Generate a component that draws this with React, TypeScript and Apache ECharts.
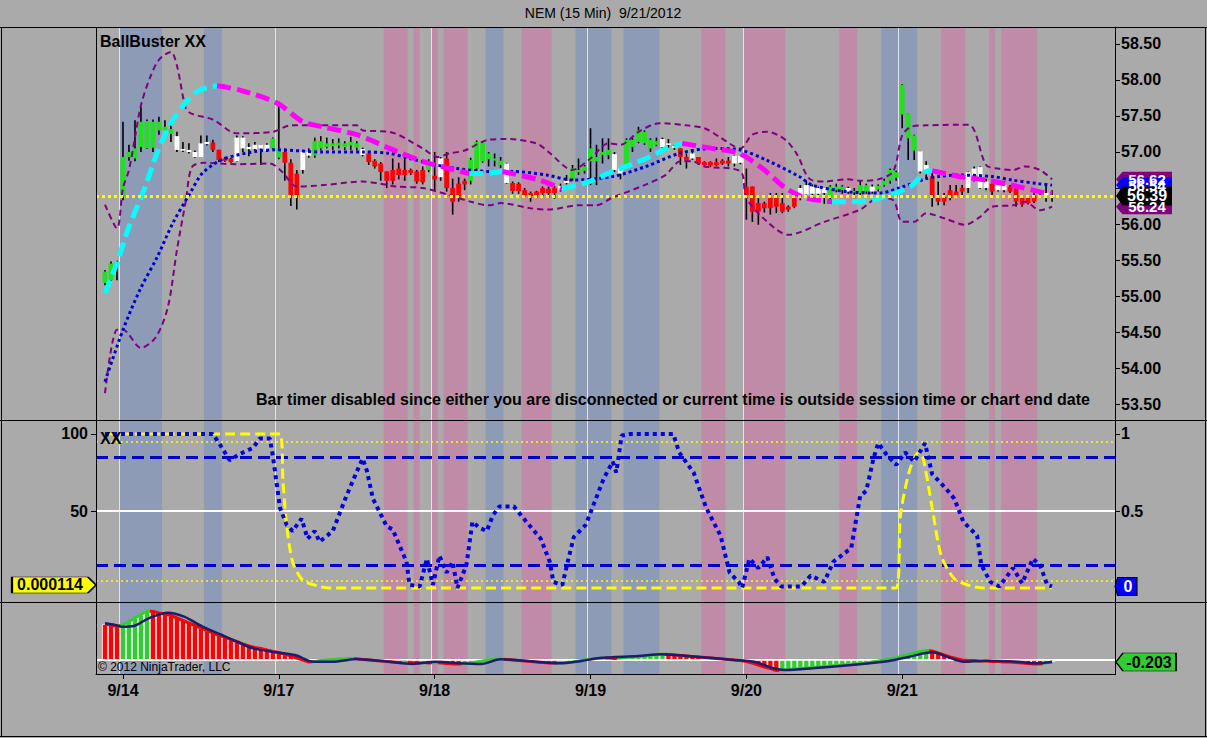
import React, { useEffect, useRef } from "react";
import * as echarts from "echarts";

// ---------- data ----------
const dayLabels = ["9/14", "9/17", "9/18", "9/19", "9/20", "9/21"];
const dayStartBars = [3, 29, 55, 81, 107, 133];
const sessionBreaks = [2.4, 28.4, 54.4, 80.4, 106.4, 132.4];
const priceTicks = [53.5, 54, 54.5, 55, 55.5, 56, 56.5, 57, 57.5, 58, 58.5];

const opens = [
  55.18, 55.22, 55.45, 56.38, 56.93, 56.91, 57.07, 57.05, 57.06, 57.30,
  57.30, 57.25, 57.22, 57.04, 57.03, 57.00, 56.93, 57.14, 57.13, 57.03,
  56.91, 56.91, 56.87, 57.20, 57.07, 57.10, 57.10, 57.10, 57.05, 56.92,
  57.00, 56.85, 56.40, 56.75, 57.00, 56.95, 57.05, 57.07, 57.08, 57.09,
  57.07, 57.09, 57.06, 57.04, 56.98, 56.88, 56.84, 56.73, 56.75, 56.77,
  56.75, 56.75, 56.73, 56.75, 56.75, 56.67, 56.91, 56.91, 56.50, 56.56,
  56.60, 56.60, 56.77, 56.87, 56.90, 56.88, 56.82, 56.84, 56.57, 56.56,
  56.47, 56.43, 56.45, 56.50, 56.49, 56.50, 56.53, 56.57, 56.63, 56.72,
  56.74, 56.87, 56.87, 56.96, 56.96, 56.97, 56.77, 56.82, 57.07, 57.14,
  57.12, 57.05, 57.10, 57.18, 57.10, 57.08, 57.05, 56.93, 56.98, 56.93,
  56.86, 56.86, 56.86, 56.88, 56.88, 56.95, 56.95, 56.52, 56.52, 56.29,
  56.29, 56.36, 56.36, 56.29, 56.24, 56.36, 56.40, 56.54, 56.52, 56.50,
  56.50, 56.36, 56.47, 56.47, 56.50, 56.44, 56.43, 56.45, 56.52, 56.48,
  56.54, 56.60, 56.64, 57.52, 57.19, 57.02, 57.01, 56.82, 56.66, 56.36,
  56.38, 56.47, 56.45, 56.50, 56.50, 56.77, 56.79, 56.59, 56.56, 56.54,
  56.54, 56.52, 56.50, 56.36, 56.36, 56.40, 56.47, 56.43, 56.40,
];
const highs = [
  55.36, 55.48, 55.49, 57.42, 57.10, 57.44, 57.63, 57.45, 57.45, 57.49,
  57.44, 57.42, 57.28, 57.14, 57.12, 57.02, 57.23, 57.23, 57.17, 57.03,
  56.93, 56.92, 57.23, 57.22, 57.12, 57.14, 57.10, 57.12, 57.20, 57.65,
  57.05, 56.90, 56.75, 57.03, 57.05, 57.20, 57.22, 57.20, 57.18, 57.19,
  57.15, 57.21, 57.15, 57.06, 56.98, 56.90, 56.86, 56.73, 56.91, 56.85,
  56.96, 56.77, 56.75, 56.80, 56.90, 57.00, 56.93, 57.00, 56.63, 56.65,
  56.63, 56.92, 57.16, 57.14, 57.00, 56.98, 56.93, 56.85, 56.59, 56.58,
  56.50, 56.45, 56.46, 56.52, 56.52, 56.53, 56.56, 56.68, 56.82, 56.91,
  56.82, 57.33, 57.10, 57.19, 57.19, 57.00, 56.80, 57.19, 57.20, 57.35,
  57.30, 57.19, 57.20, 57.20, 57.18, 57.10, 57.05, 56.98, 57.00, 56.93,
  56.87, 56.87, 56.91, 56.90, 56.93, 56.96, 56.96, 56.77, 56.52, 56.36,
  56.31, 56.43, 56.43, 56.43, 56.26, 56.40, 56.54, 56.60, 56.55, 56.52,
  56.50, 56.54, 56.56, 56.54, 56.52, 56.50, 56.60, 56.56, 56.55, 56.55,
  56.63, 56.77, 56.74, 57.94, 57.54, 57.24, 57.01, 56.87, 56.73, 56.59,
  56.43, 56.54, 56.54, 56.54, 56.73, 56.80, 56.80, 56.63, 56.59, 56.56,
  56.56, 56.54, 56.50, 56.38, 56.38, 56.45, 56.47, 56.54, 56.47,
];
const lows = [
  55.15, 55.20, 55.22, 56.33, 56.88, 56.87, 57.00, 57.04, 57.00, 57.24,
  57.22, 57.14, 57.00, 57.00, 56.98, 56.92, 56.93, 57.09, 57.00, 56.86,
  56.86, 56.85, 56.86, 57.00, 56.94, 57.02, 56.82, 57.00, 57.03, 56.90,
  56.60, 56.25, 56.20, 56.70, 56.92, 56.92, 57.02, 57.05, 57.03, 57.05,
  57.03, 57.03, 57.02, 56.94, 56.82, 56.77, 56.60, 56.50, 56.55, 56.62,
  56.60, 56.68, 56.56, 56.55, 56.72, 56.45, 56.60, 56.45, 56.13, 56.31,
  56.47, 56.55, 56.72, 56.85, 56.80, 56.80, 56.78, 56.56, 56.42, 56.42,
  56.38, 56.31, 56.36, 56.38, 56.36, 56.35, 56.45, 56.55, 56.60, 56.68,
  56.70, 56.54, 56.54, 56.84, 56.90, 56.72, 56.62, 56.80, 57.00, 57.12,
  57.10, 57.00, 57.08, 57.05, 57.06, 57.03, 56.82, 56.77, 56.89, 56.82,
  56.80, 56.79, 56.80, 56.82, 56.80, 56.80, 56.83, 56.06, 56.03, 55.99,
  56.16, 56.13, 56.15, 56.15, 56.17, 56.22, 56.33, 56.38, 56.40, 56.40,
  56.28, 56.29, 56.44, 56.42, 56.42, 56.36, 56.40, 56.42, 56.42, 56.45,
  56.52, 56.56, 56.60, 57.33, 56.89, 56.89, 56.70, 56.63, 56.24, 56.26,
  56.26, 56.33, 56.36, 56.38, 56.43, 56.59, 56.49, 56.47, 56.40, 56.45,
  56.44, 56.43, 56.24, 56.24, 56.27, 56.29, 56.40, 56.31, 56.31,
];
const closes = [
  55.34, 55.45, 55.47, 56.93, 57.00, 57.05, 57.42, 57.43, 57.42, 57.42,
  57.35, 57.32, 57.03, 57.02, 57.00, 56.93, 57.12, 57.11, 57.03, 56.89,
  56.88, 56.86, 57.20, 57.05, 57.04, 57.04, 57.05, 57.02, 57.19, 57.05,
  56.85, 56.40, 56.70, 57.00, 56.95, 57.15, 57.15, 57.12, 57.12, 57.13,
  57.12, 57.14, 57.12, 56.96, 56.86, 56.80, 56.72, 56.60, 56.60, 56.68,
  56.68, 56.71, 56.59, 56.58, 56.86, 56.62, 56.65, 56.50, 56.31, 56.38,
  56.55, 56.89, 57.14, 57.13, 56.98, 56.91, 56.88, 56.57, 56.46, 56.46,
  56.40, 56.39, 56.40, 56.43, 56.43, 56.43, 56.47, 56.60, 56.77, 56.75,
  56.80, 57.05, 56.93, 57.00, 57.03, 56.75, 56.70, 57.17, 57.17, 57.30,
  57.28, 57.17, 57.15, 57.07, 57.12, 57.06, 56.93, 56.88, 56.91, 56.84,
  56.82, 56.81, 56.82, 56.84, 56.84, 56.84, 56.85, 56.40, 56.17, 56.17,
  56.22, 56.22, 56.24, 56.17, 56.20, 56.24, 56.50, 56.41, 56.42, 56.42,
  56.43, 56.52, 56.52, 56.52, 56.45, 56.46, 56.54, 56.54, 56.45, 56.53,
  56.60, 56.75, 56.72, 57.93, 57.54, 57.23, 56.73, 56.74, 56.36, 56.31,
  56.31, 56.36, 56.40, 56.45, 56.72, 56.68, 56.50, 56.50, 56.45, 56.47,
  56.47, 56.45, 56.31, 56.27, 56.29, 56.31, 56.43, 56.40, 56.39,
];
// G = green trend, R = red trend, W = neutral (white)
const barStates =
  "GGGGGGGGGGGG" + "WWWWWW" + "RRRR" + "WWWWWW" + "GG" + "RRR" + "WW" + "GGGGGGGG" + "W" +
  "RRRRRRRRRR" + "G" + "R" + "W" + "RRRR" + "GGGGGG" + "W" + "RRRRRRRR" + "WW" + "GGGGGGG" +
  "WW" + "GGGGGG" + "WWW" + "RR" + "W" + "RRRRRR" + "WW" + "RRRRRRRRR" + "WWWWW" + "GGG" +
  "W" + "GGG" + "W" + "GGGGGGG" + "WW" + "RRRRRR" + "WWWW" + "R" + "WW" + "RRRRR" + "WWW";

// band / average lines as [bar, value]
const upperBand = [
  [0, 56.27], [2, 55.94], [3, 56.5], [4, 56.75], [5, 57.2], [6, 57.65], [7.5, 58.03], [9, 58.28],
  [11, 58.39], [12, 58.2], [13.5, 57.6], [14.5, 57.53], [18, 57.45], [22, 57.26], [28, 57.28],
  [31, 57.37], [42, 57.37], [43, 57.3], [47.5, 57.28], [53, 57.05], [55.5, 56.93], [57.5, 56.98],
  [60, 57.02], [64, 57.17], [67, 57.18], [72, 57.12], [74, 57.0], [78, 56.75], [81, 56.91],
  [84, 57.12], [86, 57.1], [89, 57.28], [92.5, 57.4], [97, 57.37], [100, 57.33], [102.5, 57.21],
  [106, 57.05], [108, 57.24], [110.5, 57.28], [113.5, 57.17], [115.5, 56.96], [117.5, 56.63],
  [120, 56.59], [124, 56.62], [126, 56.6], [129, 56.62], [131.5, 56.73], [133, 57.23],
  [134.5, 57.35], [137, 57.37], [144, 57.38], [147, 56.82], [149, 56.77], [151.5, 56.75],
  [153.5, 56.8], [156, 56.75], [158, 56.62],
];
const lowerBand = [
  [0, 53.65], [2, 54.53], [3, 54.53], [6, 54.28], [8.5, 54.43], [10.5, 54.85], [12, 55.64],
  [13.5, 56.33], [14.5, 56.79], [16.5, 56.85], [22, 56.83], [27.5, 56.84], [29.5, 56.73],
  [32, 56.52], [36.5, 56.54], [43, 56.59], [46, 56.56], [48.5, 56.52], [53, 56.5], [57.5, 56.4],
  [61, 56.31], [64, 56.26], [66, 56.29], [71, 56.22], [74, 56.2], [79, 56.26], [82, 56.26],
  [84.5, 56.36], [90, 56.54], [93.5, 56.68], [96, 56.87], [98, 56.87], [100, 56.8], [106, 56.73],
  [107, 56.36], [110.5, 56.03], [114, 55.85], [120, 56.03], [126, 56.2], [129, 56.36],
  [131.5, 56.33], [133, 56.03], [135, 56.03], [137, 56.15], [140, 56.08], [143.5, 55.99],
  [146, 56.1], [148, 56.24], [151.5, 56.26], [153.5, 56.31], [156, 56.19], [158, 56.24],
];
const slowAverage = [
  [0, 53.81], [3, 54.53], [5.8, 55.08], [8.7, 55.54], [11.3, 56.01], [14.2, 56.43], [16.3, 56.71],
  [19.7, 56.9], [25.3, 57.01], [28.7, 57.03], [36.3, 57.0], [43, 57.0], [47.5, 56.98],
  [50.8, 56.91], [55.3, 56.82], [58.7, 56.77], [64, 56.73], [68, 56.73], [73.7, 56.68],
  [78, 56.61], [84.7, 56.66], [90.3, 56.8], [95.8, 56.98], [101.3, 57.05], [105.8, 57.03],
  [110.3, 56.89], [115.8, 56.66], [118, 56.54], [123.7, 56.45], [129.2, 56.43], [132.5, 56.5],
  [137, 56.63], [139.2, 56.66], [142.5, 56.68], [148, 56.66], [151.3, 56.61], [155.8, 56.56],
  [158, 56.54],
];
const fastAverage = [
  [0, 55.04], [2, 55.46], [4, 55.96], [6.5, 56.47], [8.7, 56.99], [11, 57.4], [13.7, 57.71],
  [15.8, 57.86], [18.7, 57.92], [22.5, 57.86], [28.7, 57.68], [33, 57.42], [36.3, 57.35],
  [42, 57.24], [47.5, 57.05], [53, 56.87], [57.5, 56.77], [60.8, 56.7], [62.5, 56.7],
  [66.3, 56.73], [72.5, 56.61], [76.3, 56.49], [80.8, 56.59], [84.7, 56.73], [90.3, 56.91],
  [93.7, 57.05], [96.3, 57.12], [101.3, 57.05], [105.8, 56.98], [109.7, 56.77], [113.7, 56.49],
  [117, 56.36], [121.3, 56.31], [125.8, 56.31], [129.2, 56.36], [132.5, 56.45], [134.7, 56.54],
  [137, 56.73], [138, 56.74], [142.5, 56.66], [147, 56.61], [151.3, 56.54], [155.8, 56.45],
  [158, 56.42],
];
const fastAverageTurns = [18.7, 60.8, 66.3, 76.3, 96.3, 121.3, 138];

const oscBlue = [
  [0, 100], [18, 100], [19.2, 93], [20.8, 83], [22.5, 87], [24.7, 91], [25.8, 97], [27.5, 97],
  [28, 86], [29.2, 52], [30.3, 41], [31.3, 37], [32.8, 45], [33.8, 32], [35, 37], [35.8, 30],
  [38, 37], [40.3, 60], [42.5, 80], [43, 84], [43.7, 76], [44.7, 58], [47, 40], [48, 38],
  [50.3, 17], [50.8, 2], [52.5, 1], [53.7, 19], [54.7, 2], [55.8, 21], [57, 10], [58, 17],
  [58.8, 0], [60.3, 15], [61.3, 43], [62.5, 39], [63.7, 37], [64.7, 47], [65.8, 53], [68.2, 53],
  [70.3, 43], [72.7, 32], [74.2, 17], [74.8, 4], [76.3, 2], [77.2, 17], [78.2, 33], [80.2, 41],
  [81.7, 56], [83.2, 71], [84.7, 82], [85.3, 75], [86.2, 99], [87.7, 100], [94.8, 100],
  [95.8, 88], [98.2, 75], [100.3, 52], [102.7, 34], [104.2, 10], [105.7, 4], [106.3, 0],
  [107.5, 19], [109, 13], [110.5, 20], [111.7, 6], [112.8, 1], [116.2, 1], [117.7, 8], [120, 4],
  [121.5, 17], [124.5, 26], [126, 60], [127, 63], [128.2, 84], [129, 94], [130.5, 86], [132, 80],
  [133.5, 88], [135, 82], [136.8, 94], [138, 74], [140.2, 65], [141.7, 58], [143.2, 43],
  [145.5, 34], [146.2, 15], [147.7, 4], [149.2, 1], [151.5, 13], [153, 3], [154.8, 19], [156, 15],
  [157.2, 2], [158, 1],
];
const oscYellow = [
  [0, 100], [29.2, 100], [29.7, 69], [30.3, 41], [31.3, 17], [33, 5], [35.8, 1], [37.5, 0],
  [132, 0], [132.7, 47], [134.2, 76], [135.7, 88], [136.5, 84], [138, 52], [139.5, 21],
  [141.7, 6], [144.7, 1], [146.7, 0], [158, 0.0114],
];
const oscLevels = [95, 85, 50, 15, 5];

const histogram = [
  3.6, 3.5, 3.35, 3.5, 3.85, 4.2, 4.55, 4.9, 4.85, 4.7,
  4.6, 4.45, 4.2, 3.95, 3.7, 3.45, 3.2, 2.95, 2.7, 2.45,
  2.3, 2.05, 1.85, 1.6, 1.4, 1.25, 1.15, 1.0, 0.85, 0.75,
  0.6, 0.4, 0.2, 0.0, -0.2, -0.15, -0.05, 0.0, 0.05, 0.1,
  0.12, 0.15, 0.12, 0.05, 0.0, -0.05, -0.1, -0.15, -0.2, -0.25,
  -0.2, -0.25, -0.3, -0.25, -0.3, -0.25, -0.3, -0.35, -0.4, -0.4,
  -0.35, -0.3, -0.2, -0.1, 0.0, 0.05, 0.1, 0.05, 0.0, -0.05,
  -0.1, -0.15, -0.2, -0.25, -0.3, -0.3, -0.28, -0.25, -0.2, -0.1,
  0.0, 0.1, 0.15, 0.2, 0.2, 0.15, 0.2, 0.25, 0.3, 0.35,
  0.4, 0.45, 0.55, 0.6, 0.55, 0.5, 0.45, 0.4, 0.35, 0.3,
  0.25, 0.2, 0.15, 0.1, 0.05, 0.0, -0.05, -0.15, -0.3, -0.5,
  -0.7, -0.85, -1.05, -1.0, -0.95, -0.9, -0.85, -0.8, -0.75, -0.7,
  -0.65, -0.6, -0.55, -0.5, -0.45, -0.4, -0.35, -0.3, -0.2, -0.1,
  0.0, 0.1, 0.2, 0.4, 0.55, 0.7, 0.85, 0.95, 0.9, 0.7,
  0.5, 0.3, 0.15, 0.0, -0.05, -0.05, -0.1, -0.1, -0.15, -0.15,
  -0.2, -0.2, -0.25, -0.3, -0.35, -0.4, -0.4, -0.3, -0.203,
];
const signalLine = [
  [0, 3.67], [1.7, 3.5], [2.8, 3.33], [4.8, 3.4], [7.3, 4.17], [10.5, 4.73], [13.2, 4.33],
  [16.3, 3.33], [19.5, 2.5], [22, 1.83], [24.7, 1.17], [28.5, 0.77], [31.7, 0.5], [34.8, -0.17],
  [38, -0.17], [41.8, 0.07], [46.3, -0.1], [51.3, -0.4], [55.2, -0.17], [59, -0.33], [62.8, -0.4],
  [66, 0.07], [71.8, -0.17], [75.7, -0.33], [79.5, -0.1], [82.5, 0.2], [89, 0.4], [92.8, 0.57],
  [98.7, 0.33], [105, 0], [108.3, -0.17], [111.5, -0.83], [113.5, -1.0], [118, -0.83],
  [124.5, -0.5], [130.8, -0.1], [134.2, 0.33], [138, 0.77], [140.5, 0.33], [143.2, -0.17],
  [147, -0.07], [152.2, -0.17], [155.3, -0.33], [158, -0.2],
];

const blueBands = [[2.5, 9.5], [16.5, 19.5], [63.5, 66.5], [78.5, 84.5], [86.5, 92.5], [129.5, 135.5]];
const pinkBands = [
  [46.5, 50.5], [51.5, 52.5], [54.5, 55.5], [56.5, 60.5], [69.5, 74.5], [99.5, 103.5],
  [106.5, 113.5], [122.5, 125.5], [139.5, 143.5], [147.5, 148.5], [149.5, 155.5],
];

// ---------- styling ----------
const FONT = "'Liberation Sans', Arial, Helvetica, sans-serif";
const BG = "#AAAAAA";
const BLUE_BAND = "#8E9BB7";
const PINK_BAND = "#BF8BA6";
const STATE_COLORS = ["#20E020", "#FF0000", "#FFFFFF"];
const HIST_UP = "#33CC33";
const HIST_DOWN = "#FF0000";
const X_MIN = -1.5;
const X_MAX = 168.5;
const TAG_LEFT = "path://M0,8L7,0L60,0L60,16L7,16Z";
const TAG_RIGHT = "path://M0,0L74,0L82,8L74,16L0,16Z";

function buildOption(): any {
  const last = (arr: number[][]) => arr[arr.length - 1][1];
  const lastClose = closes[closes.length - 1];

  const bandAreas = [
    ...blueBands.map((b) => [{ xAxis: b[0], itemStyle: { color: BLUE_BAND, opacity: 1 } }, { xAxis: b[1] }]),
    ...pinkBands.map((b) => [{ xAxis: b[0], itemStyle: { color: PINK_BAND, opacity: 1 } }, { xAxis: b[1] }]),
  ];

  const helper = (grid: number, yIdx: number) => ({
    type: "line",
    xAxisIndex: grid,
    yAxisIndex: yIdx,
    data: [],
    silent: true,
    markArea: { silent: true, z: 0, data: bandAreas },
    markLine: {
      silent: true,
      z: 1,
      symbol: ["none", "none"],
      label: { show: false },
      lineStyle: { color: "#E4E4E4", width: 1, type: "solid" },
      data: sessionBreaks.map((b) => ({ xAxis: b })),
    },
  });

  const candleData = opens.map((o, k) => [k, o, closes[k], lows[k], highs[k], "GRW".indexOf(barStates[k])]);

  const priceTags = [
    { value: last(upperBand), color: "#800080", big: false },
    { value: last(slowAverage), color: "#0000FF", big: false },
    { value: last(lowerBand), color: "#800080", big: false },
    { value: lastClose, color: "#000000", big: true },
  ];

  const bounds = [0, ...fastAverageTurns, 158];
  const fastSegments = bounds.slice(0, -1).map((a, i) => {
    const b = bounds[i + 1];
    return {
      type: "line",
      xAxisIndex: 0,
      yAxisIndex: 0,
      z: 4,
      silent: true,
      showSymbol: false,
      smooth: 0.3,
      data: fastAverage.filter((p) => p[0] >= a && p[0] <= b),
      lineStyle: { color: i % 2 === 0 ? "#00FFFF" : "#FF00FF", width: 5, type: [14, 6] },
    };
  });

  const histColor = (k: number) => (k > 0 && histogram[k] > histogram[k - 1] ? HIST_UP : HIST_DOWN);
  const histData = histogram.map((v, k) => ({ value: [k, v], itemStyle: { color: histColor(k) } }));
  const histEdge = histogram.map((v, k) => [k, v]);

  const labelStyle = { color: "#000", fontWeight: "bold", fontSize: 16, fontFamily: FONT };

  const xAxes = [0, 1, 2].map((i) => ({
    type: "value",
    gridIndex: i,
    min: X_MIN,
    max: X_MAX,
    axisLine: { show: i === 2, onZero: false, lineStyle: { color: "#000" } },
    axisTick:
      i === 2
        ? { show: true, customValues: dayStartBars, length: 5, lineStyle: { color: "#000" } }
        : { show: false },
    axisLabel:
      i === 2
        ? {
            show: true,
            customValues: dayStartBars,
            formatter: (v: number) => dayLabels[dayStartBars.indexOf(Math.round(v))] ?? "",
            margin: 8,
            ...labelStyle,
          }
        : { show: false },
    splitLine: { show: false },
  }));

  const yAxes = [
    {
      type: "value", gridIndex: 0, position: "right", min: 53.278, max: 58.736,
      axisLine: { show: true, onZero: false, lineStyle: { color: "#000" } },
      axisTick: { show: true, customValues: priceTicks, length: 5, lineStyle: { color: "#000" } },
      axisLabel: { show: true, customValues: priceTicks, formatter: (v: number) => v.toFixed(2), margin: 6, ...labelStyle },
      splitLine: { show: false },
    },
    {
      type: "value", gridIndex: 1, position: "left", min: -9.09, max: 109.09,
      axisLine: { show: true, onZero: false, lineStyle: { color: "#000" } },
      axisTick: { show: true, customValues: [50, 100], length: 5, lineStyle: { color: "#000" } },
      axisLabel: { show: true, customValues: [50, 100], formatter: (v: number) => String(Math.round(v)), margin: 8, ...labelStyle },
      splitLine: { show: false },
    },
    {
      type: "value", gridIndex: 1, position: "right", min: -0.0909, max: 1.0909,
      axisLine: { show: true, onZero: false, lineStyle: { color: "#000" } },
      axisTick: { show: true, customValues: [0.5, 1], length: 5, lineStyle: { color: "#000" } },
      axisLabel: { show: true, customValues: [0.5, 1], formatter: (v: number) => String(Math.round(v * 10) / 10), margin: 6, ...labelStyle },
      splitLine: { show: false },
    },
    {
      type: "value", gridIndex: 2, min: -1.4, max: 5.8,
      axisLine: { show: false, onZero: false }, axisTick: { show: false }, axisLabel: { show: false }, splitLine: { show: false },
    },
  ];

  const series: any[] = [
    helper(0, 0),
    {
      type: "custom",
      xAxisIndex: 0,
      yAxisIndex: 0,
      z: 2,
      silent: true,
      data: candleData,
      encode: { x: 0, y: [1, 2, 3, 4] },
      renderItem: (params: any, api: any) => {
        const k = api.value(0);
        const o = api.value(1);
        const c = api.value(2);
        const l = api.value(3);
        const h = api.value(4);
        const col = STATE_COLORS[api.value(5)] || "#fff";
        const pH = api.coord([k, h]);
        const pL = api.coord([k, l]);
        const pO = api.coord([k, o]);
        const pC = api.coord([k, c]);
        const w = api.size([1, 0])[0] * 0.8;
        const y0 = Math.min(pO[1], pC[1]);
        const bh = Math.max(Math.abs(pO[1] - pC[1]), 1.5);
        return {
          type: "group",
          children: [
            { type: "line", shape: { x1: pH[0], y1: pH[1], x2: pL[0], y2: pL[1] }, style: { stroke: "#000", lineWidth: 1.6 } },
            { type: "rect", shape: { x: pO[0] - w / 2, y: y0, width: w, height: bh }, style: { fill: col } },
          ],
        };
      },
    },
    {
      type: "line",
      xAxisIndex: 0,
      yAxisIndex: 0,
      z: 3,
      silent: true,
      showSymbol: false,
      smooth: 0.3,
      data: upperBand,
      lineStyle: { color: "#800080", width: 2, type: [6, 4] },
      markLine: {
        silent: true,
        z: 5,
        symbol: ["none", "none"],
        label: { show: false },
        data: [{ yAxis: lastClose, lineStyle: { color: "#FFFF00", width: 3, type: [3, 3] } }],
      },
      markPoint: {
        silent: true,
        z: 6,
        data: priceTags.map((t) => ({
          coord: [X_MAX, t.value],
          symbol: TAG_LEFT,
          symbolSize: [56, t.big ? 19 : 15],
          symbolKeepAspect: false,
          symbolOffset: [29, 0],
          itemStyle: { color: t.color },
          label: {
            show: true,
            position: "inside",
            formatter: t.value.toFixed(2),
            color: "#FFFFFF",
            fontWeight: "bold",
            fontSize: t.big ? 16 : 15,
            fontFamily: FONT,
            offset: [3, 0],
          },
        })),
      },
    },
    {
      type: "line", xAxisIndex: 0, yAxisIndex: 0, z: 3, silent: true, showSymbol: false, smooth: 0.3,
      data: lowerBand, lineStyle: { color: "#800080", width: 2, type: [6, 4] },
    },
    {
      type: "line", xAxisIndex: 0, yAxisIndex: 0, z: 3, silent: true, showSymbol: false, smooth: 0.3,
      data: slowAverage, lineStyle: { color: "#0000CC", width: 3, type: [3, 3] },
    },
    ...fastSegments,
    // middle panel
    helper(1, 1),
    {
      type: "line",
      xAxisIndex: 1,
      yAxisIndex: 1,
      z: 3,
      silent: true,
      showSymbol: false,
      smooth: 0.25,
      data: oscYellow,
      lineStyle: { color: "#FFFF00", width: 3, type: [10, 5] },
      markLine: {
        silent: true,
        z: 2,
        symbol: ["none", "none"],
        label: { show: false },
        data: oscLevels.map((lv) => ({
          yAxis: lv,
          lineStyle:
            lv === 50
              ? { color: "#FFFFFF", width: 2, type: "solid" }
              : lv === 85 || lv === 15
              ? { color: "#0000CC", width: 3, type: [12, 6] }
              : { color: "#FFFF00", width: 1.5, type: [2, 3] },
        })),
      },
      markPoint: {
        silent: true,
        z: 6,
        data: [
          {
            coord: [X_MIN, last(oscYellow)],
            symbol: TAG_RIGHT,
            symbolSize: [84, 16],
            symbolKeepAspect: false,
            symbolOffset: [-42, -3],
            itemStyle: { color: "#FFFF00", borderColor: "#000", borderWidth: 1 },
            label: {
              show: true, position: "inside", formatter: (last(oscYellow) / 100).toFixed(6),
              color: "#000", fontWeight: "bold", fontSize: 16, fontFamily: FONT, offset: [-4, 0],
            },
          },
        ],
      },
    },
    {
      type: "line",
      xAxisIndex: 1,
      yAxisIndex: 1,
      z: 4,
      silent: true,
      showSymbol: false,
      data: oscBlue,
      lineStyle: { color: "#0000E0", width: 4, type: [4, 4] },
      markPoint: {
        silent: true,
        z: 6,
        data: [
          {
            coord: [X_MAX, last(oscBlue)],
            symbol: TAG_LEFT,
            symbolSize: [22, 18],
            symbolKeepAspect: false,
            symbolOffset: [11, 0],
            itemStyle: { color: "#0000FF", borderColor: "#000", borderWidth: 1 },
            label: {
              show: true, position: "inside", formatter: String(Math.floor(last(oscBlue) / 100)),
              color: "#FFFFFF", fontWeight: "bold", fontSize: 16, fontFamily: FONT, offset: [2, 0],
            },
          },
        ],
      },
    },
    // bottom panel
    helper(2, 3),
    {
      type: "bar",
      xAxisIndex: 2,
      yAxisIndex: 3,
      z: 2,
      silent: true,
      barWidth: 6,
      data: histData,
      itemStyle: { borderColor: "#FFFFFF", borderWidth: 0.8 },
    },
    {
      id: "histEdge",
      type: "line",
      xAxisIndex: 2,
      yAxisIndex: 3,
      z: 3,
      silent: true,
      showSymbol: false,
      data: histEdge,
      lineStyle: { width: 3 },
    },
    {
      type: "line",
      xAxisIndex: 2,
      yAxisIndex: 3,
      z: 4,
      silent: true,
      showSymbol: false,
      smooth: 0.3,
      data: signalLine,
      lineStyle: { color: "#1C1C70", width: 2.5 },
      markLine: {
        silent: true,
        z: 2,
        symbol: ["none", "none"],
        label: { show: false },
        data: [{ yAxis: 0, lineStyle: { color: "#FFFFFF", width: 2, type: "solid" } }],
      },
      markPoint: {
        silent: true,
        z: 6,
        data: [
          {
            coord: [X_MAX, histogram[histogram.length - 1]],
            symbol: TAG_LEFT,
            symbolSize: [60, 18],
            symbolKeepAspect: false,
            symbolOffset: [31, 0],
            itemStyle: { color: "#33CC33", borderColor: "#000", borderWidth: 1 },
            label: {
              show: true, position: "inside", formatter: histogram[histogram.length - 1].toFixed(3),
              color: "#000", fontWeight: "bold", fontSize: 16, fontFamily: FONT, offset: [3, 0],
            },
          },
        ],
      },
    },
  ];

  const histEdgeIndex = series.findIndex((s) => s.id === "histEdge");

  const frameLine = (x1: number, y1: number, x2: number, y2: number) => ({
    type: "line",
    silent: true,
    z: 100,
    shape: { x1, y1, x2, y2 },
    style: { stroke: "#000", lineWidth: 1 },
  });
  const txt = (x: number, y: number, text: string, font: string, align = "left") => ({
    type: "text",
    silent: true,
    z: 101,
    x,
    y,
    style: { text, font, fill: "#000", textAlign: align, textVerticalAlign: "middle" },
  });

  return {
    animation: false,
    backgroundColor: BG,
    textStyle: { fontFamily: FONT },
    grid: [
      { left: 96, right: 92, top: 27, height: 393 },
      { left: 96, right: 92, top: 420, height: 182 },
      { left: 96, right: 92, top: 602, height: 72 },
    ],
    xAxis: xAxes,
    yAxis: yAxes,
    visualMap: [
      {
        type: "piecewise",
        show: false,
        dimension: 0,
        seriesIndex: histEdgeIndex,
        pieces: histogram.map((v, k) => ({ gte: k - 0.5, lt: k + 0.5, color: histColor(k) })),
        outOfRange: { color: HIST_DOWN },
      },
    ],
    series,
    graphic: [
      frameLine(0, 27.5, 1207, 27.5),
      frameLine(1.5, 27, 1.5, 737),
      frameLine(1205.5, 27, 1205.5, 737),
      frameLine(0, 736.5, 1207, 736.5),
      frameLine(0, 420.5, 1207, 420.5),
      frameLine(0, 602.5, 1207, 602.5),
      frameLine(96.5, 27, 96.5, 674),
      frameLine(1115.5, 27, 1115.5, 674),
      frameLine(96, 674.5, 1116, 674.5),
      txt(603, 13, "NEM (15 Min)  9/21/2012", `14px ${FONT}`, "center"),
      txt(100, 41, "BallBuster XX", `bold 16px ${FONT}`),
      txt(100, 438, "XX", `bold 16px ${FONT}`),
      txt(
        1090,
        399,
        "Bar timer disabled since either you are disconnected or current time is outside session time or chart end date",
        `bold 16px ${FONT}`,
        "right"
      ),
      txt(98, 667, "\u00A9 2012 NinjaTrader, LLC", `12px ${FONT}`),
    ],
  };
}

export default function App() {
  const ref = useRef<HTMLDivElement>(null);
  useEffect(() => {
    document.body.style.margin = "0";
    if (!ref.current) return;
    const chart = echarts.init(ref.current, null, { renderer: "svg" });
    chart.setOption(buildOption());
    return () => chart.dispose();
  }, []);
  return <div ref={ref} style={{ width: 1207, height: 738 }} />;
}
